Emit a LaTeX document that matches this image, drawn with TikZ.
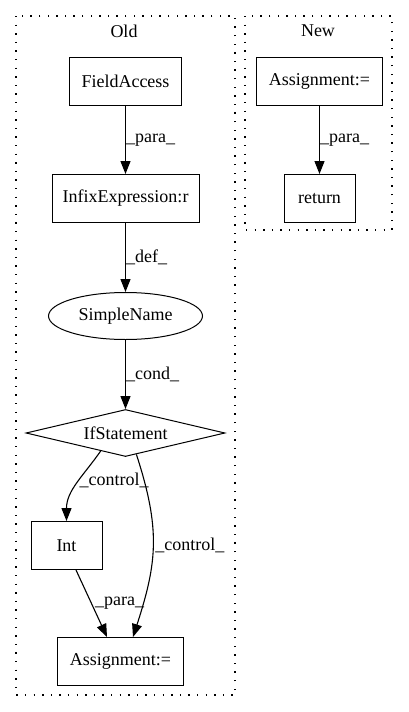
\documentclass[tikz,border=0pt]{standalone}
\usepackage{fontspec}
\setmainfont{Liberation Serif}
\usetikzlibrary{positioning,shapes.geometric,arrows.meta}

\tikzset{
  every node/.style={font=\fontsize{18}{21}\selectfont},
  box/.style={draw, rectangle, line width=1pt, minimum height=48pt, inner sep=0pt},
  oval/.style={draw, ellipse, line width=1pt, minimum width=154pt, minimum height=47pt, inner sep=0pt},
  cond/.style={draw, diamond, line width=1pt, aspect=4.2, minimum width=199pt, minimum height=47pt, inner sep=0pt},
  cluster/.style={line width=1.3pt, dash pattern=on 1.4pt off 7.2pt},
  flow/.style={line width=1.1pt, -{Triangle[length=13pt,width=10pt]}},
  lbl/.style={anchor=west, inner sep=0pt},
}

\begin{document}
\begin{tikzpicture}[x=1pt, y=-1pt]
    \useasboundingbox (0,0) rectangle (408,712);

    % clusters
    \draw[cluster] (16,16) rectangle (235,695);
    \draw[cluster] (245,16) rectangle (392,230);
    \node (oldlbl) at (124,31) {Old};
    \node (newlbl) at (318,31) {New};

    % old
    \node[box, minimum width=112pt] (fa) at (125.5,81.5) {FieldAccess};
    \node[box, minimum width=147pt, below=68pt of fa] (infix) {InfixExpression:r};
    \node[oval, below=69pt of infix] (sn) {SimpleName};
    \node[cond, below=69pt of sn] (ifst) {IfStatement};
    \node[box, minimum width=71pt] (int) at (66.5,545.5) {Int};
    \node[box, minimum width=126pt] (asgold) at (120.5,661.5) {Assignment:=};

    % new
    \node[box, minimum width=126pt] (asgnew) at (319.5,81.5) {Assignment:=};
    \node[box, minimum width=71pt, below=68pt of asgnew] (ret) {return};

    \draw[flow] (fa) -- node[lbl] {\_para\_} (infix);
    \draw[flow] (infix) -- node[lbl] {\_def\_} (sn);
    \draw[flow] (sn) -- node[lbl] {\_cond\_} (ifst);
    \draw[flow] (ifst.216) to[out=-125, in=90] node[lbl, pos=0.45] {\_control\_} (int.north);
    \draw[flow] (ifst.297) to[out=-72, in=72, looseness=1.1] node[lbl, pos=0.5, xshift=2pt] {\_control\_} (asgold.63);
    \draw[flow] (int.south -| 76,0) -- node[lbl, pos=0.5, xshift=3pt] {\_para\_} (asgold.north -| 107,0);
    \draw[flow] (asgnew) -- node[lbl] {\_para\_} (ret);
\end{tikzpicture}
\end{document}
